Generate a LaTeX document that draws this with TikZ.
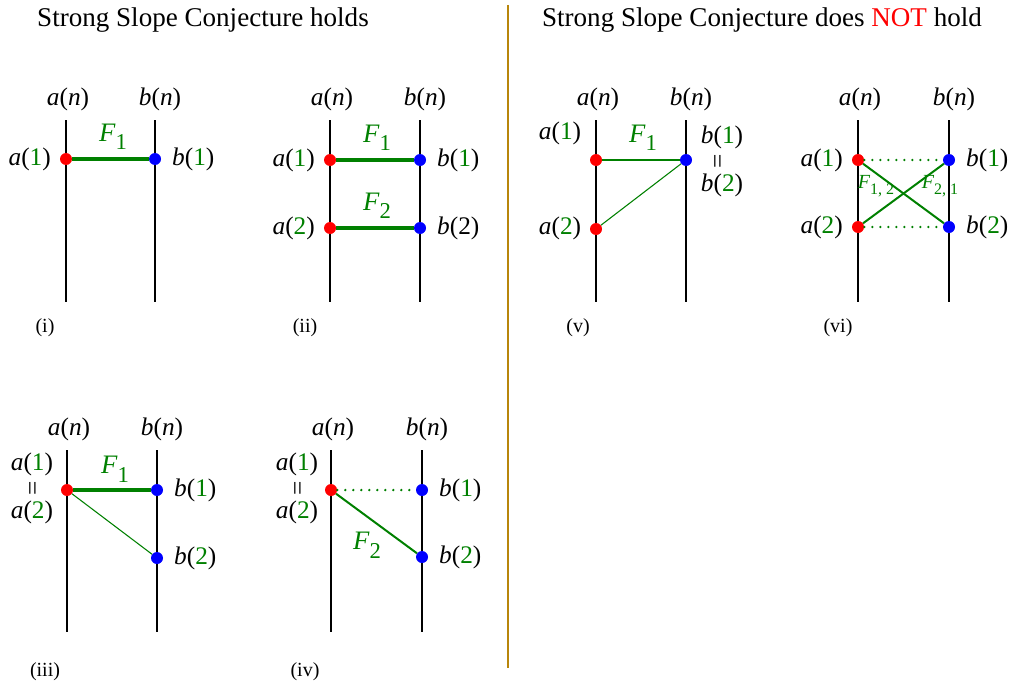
\documentclass[tikz,border=0pt]{standalone}
\usepackage{fontspec}
\setmainfont{Liberation Serif}
\usepackage{graphicx}
\usetikzlibrary{
    positioning
}
\definecolor{fgreen}{RGB}{0,128,0}
\definecolor{sepgold}{RGB}{184,134,11}
\newcommand{\gn}[1]{\textcolor{fgreen}{#1}}
\newcommand{\Fsub}[2]{\textit{F}\raisebox{-0.32em}{\fontsize{#2}{#2}\selectfont #1}}
\newcommand{\eqv}{\rotatebox{90}{\fontsize{19}{19}\selectfont =}}
\tikzset{
    axis/.style={line width=1.2pt},
    adot/.style={
        circle, fill=red,
        inner sep=0pt, minimum size=9pt
    },
    bdot/.style={
        circle, fill=blue,
        inner sep=0pt, minimum size=9pt
    },
    lbl/.style={inner sep=0pt, font=\fontsize{19}{22}\selectfont},
    flbl/.style={inner sep=0pt, text=fgreen, font=\fontsize{20}{22}\selectfont},
    tag/.style={inner sep=0pt, font=\fontsize{15}{17}\selectfont},
    title/.style={inner sep=0pt, font=\fontsize{20.3}{24}\selectfont},
    thickF/.style={fgreen, line width=2.6pt},
    midF/.style={fgreen, line width=1.5pt},
    thinF/.style={fgreen, line width=0.8pt},
    dotF/.style={fgreen, line width=1.9pt, line cap=round,
        dash pattern=on 0pt off 6pt}
}

\begin{document}
\begin{tikzpicture}[
    x=0.75pt,
    y=-0.75pt
]
    \useasboundingbox (0,0) rectangle (1012,685);

    % Titulos y separador
    \node[title] (hold) at (203,20) {Strong Slope Conjecture holds};
    \node[title] (nohold) at (762,20)
        {Strong Slope Conjecture does \textcolor{red}{NOT} hold};
    \coordinate (septop) at (508,5);
    \coordinate (sepbot) at (508,668);
    \draw[sepgold, line width=1.6pt] (septop) -- (sepbot);

    % Caso (i)
    \coordinate (atopI) at (66,120);
    \coordinate (abotI) at (66,302);
    \coordinate (btopI) at (155,120);
    \coordinate (bbotI) at (155,302);
    \draw[axis] (atopI) -- (abotI);
    \draw[axis] (btopI) -- (bbotI);
    \node[lbl] (anI) at (68,99) {\textit{a}(\textit{n})};
    \node[lbl] (bnI) at (160,99) {\textit{b}(\textit{n})};
    \node[adot] (a1I) at (66,159) {};
    \node[bdot] (b1I) at (155,159) {};
    \node[lbl, left=6.5pt of a1I] (la1I) {\textit{a}(\gn{1})};
    \node[lbl, right=8pt of b1I] (lb1I) {\textit{b}(\gn{1})};
    \node[flbl] (f1I) at (113,137) {\Fsub{1}{17}};
    \node[tag] (tagI) at (45,328) {(i)};
    \path
        (a1I) edge[thickF] (b1I);

    % Caso (ii)
    \coordinate (atopII) at (330,120);
    \coordinate (abotII) at (330,302);
    \coordinate (btopII) at (420,120);
    \coordinate (bbotII) at (420,302);
    \draw[axis] (atopII) -- (abotII);
    \draw[axis] (btopII) -- (bbotII);
    \node[lbl] (anII) at (332,99) {\textit{a}(\textit{n})};
    \node[lbl] (bnII) at (425,99) {\textit{b}(\textit{n})};
    \node[adot] (a1II) at (330,160) {};
    \node[adot] (a2II) at (330,228) {};
    \node[bdot] (b1II) at (420,160) {};
    \node[bdot] (b2II) at (420,228) {};
    \node[lbl, left=6.5pt of a1II] (la1II) {\textit{a}(\gn{1})};
    \node[lbl, left=6.5pt of a2II] (la2II) {\textit{a}(\gn{2})};
    \node[lbl, right=8pt of b1II] (lb1II) {\textit{b}(\gn{1})};
    \node[lbl, right=8pt of b2II] (lb2II) {\textit{b}(2)};
    \node[flbl] (f1II) at (377,138) {\Fsub{1}{17}};
    \node[flbl] (f2II) at (377,206) {\Fsub{2}{17}};
    \node[tag] (tagII) at (305,328) {(ii)};
    \path
        (a1II) edge[thickF] (b1II)
        (a2II) edge[thickF] (b2II);

    % Caso (iii)
    \coordinate (atopIII) at (67,450);
    \coordinate (abotIII) at (67,632);
    \coordinate (btopIII) at (157,450);
    \coordinate (bbotIII) at (157,632);
    \draw[axis] (atopIII) -- (abotIII);
    \draw[axis] (btopIII) -- (bbotIII);
    \node[lbl] (anIII) at (69,429) {\textit{a}(\textit{n})};
    \node[lbl] (bnIII) at (162,429) {\textit{b}(\textit{n})};
    \node[adot] (aIII) at (67,490) {};
    \node[bdot] (b1III) at (157,490) {};
    \node[bdot] (b2III) at (157,558) {};
    \node[lbl] (la1III) at (32,464) {\textit{a}(\gn{1})};
    \node[lbl] (eqIII) at (35,488) {\eqv};
    \node[lbl] (la2III) at (32,512) {\textit{a}(\gn{2})};
    \node[lbl, right=8pt of b1III] (lb1III) {\textit{b}(\gn{1})};
    \node[lbl, right=8pt of b2III] (lb2III) {\textit{b}(\gn{2})};
    \node[flbl] (f1III) at (115,469) {\Fsub{1}{17}};
    \node[tag] (tagIII) at (45,672) {(iii)};
    \path
        (aIII) edge[thickF] (b1III)
        (aIII) edge[thinF] (b2III);

    % Caso (iv)
    \coordinate (atopIV) at (331,450);
    \coordinate (abotIV) at (331,632);
    \coordinate (btopIV) at (422,450);
    \coordinate (bbotIV) at (422,632);
    \draw[axis] (atopIV) -- (abotIV);
    \draw[axis] (btopIV) -- (bbotIV);
    \node[lbl] (anIV) at (333,429) {\textit{a}(\textit{n})};
    \node[lbl] (bnIV) at (427,429) {\textit{b}(\textit{n})};
    \node[adot] (aIV) at (331,490) {};
    \node[bdot] (b1IV) at (422,490) {};
    \node[bdot] (b2IV) at (422,557) {};
    \node[lbl] (la1IV) at (297,464) {\textit{a}(\gn{1})};
    \node[lbl] (eqIV) at (300,488) {\eqv};
    \node[lbl] (la2IV) at (297,512) {\textit{a}(\gn{2})};
    \node[lbl, right=8pt of b1IV] (lb1IV) {\textit{b}(\gn{1})};
    \node[lbl, right=8pt of b2IV] (lb2IV) {\textit{b}(\gn{2})};
    \node[flbl] (f2IV) at (367,545) {\Fsub{2}{17}};
    \node[tag] (tagIV) at (305,672) {(iv)};
    \path
        (aIV) edge[dotF] (b1IV)
        (aIV) edge[midF] (b2IV);

    % Caso (v)
    \coordinate (atopV) at (596,120);
    \coordinate (abotV) at (596,302);
    \coordinate (btopV) at (686,120);
    \coordinate (bbotV) at (686,302);
    \draw[axis] (atopV) -- (abotV);
    \draw[axis] (btopV) -- (bbotV);
    \node[lbl] (anV) at (598,99) {\textit{a}(\textit{n})};
    \node[lbl] (bnV) at (691,99) {\textit{b}(\textit{n})};
    \node[adot] (a1V) at (596,160) {};
    \node[adot] (a2V) at (596,229) {};
    \node[bdot] (bV) at (686,160) {};
    \node[lbl] (la1V) at (560,133) {\textit{a}(\gn{1})};
    \node[lbl] (la2V) at (560,228) {\textit{a}(\gn{2})};
    \node[lbl] (lb1V) at (722,137) {\textit{b}(\gn{1})};
    \node[lbl] (eqV) at (720,161) {\eqv};
    \node[lbl] (lb2V) at (722,185) {\textit{b}(\gn{2})};
    \node[flbl] (f1V) at (643,138) {\Fsub{1}{17}};
    \node[tag] (tagV) at (578,328) {(v)};
    \path
        (a1V) edge[midF] (bV)
        (a2V) edge[thinF] (bV);

    % Caso (vi)
    \coordinate (atopVI) at (858,120);
    \coordinate (abotVI) at (858,302);
    \coordinate (btopVI) at (949,120);
    \coordinate (bbotVI) at (949,302);
    \draw[axis] (atopVI) -- (abotVI);
    \draw[axis] (btopVI) -- (bbotVI);
    \node[lbl] (anVI) at (860,99) {\textit{a}(\textit{n})};
    \node[lbl] (bnVI) at (954,99) {\textit{b}(\textit{n})};
    \node[adot] (a1VI) at (858,160) {};
    \node[adot] (a2VI) at (858,227) {};
    \node[bdot] (b1VI) at (949,160) {};
    \node[bdot] (b2VI) at (949,227) {};
    \node[lbl, left=6.5pt of a1VI] (la1VI) {\textit{a}(\gn{1})};
    \node[lbl, left=6.5pt of a2VI] (la2VI) {\textit{a}(\gn{2})};
    \node[lbl, right=8pt of b1VI] (lb1VI) {\textit{b}(\gn{1})};
    \node[lbl, right=8pt of b2VI] (lb2VI) {\textit{b}(\gn{2})};
    \node[flbl, font=\fontsize{15}{17}\selectfont] (f12VI) at (876,186) {\Fsub{1, 2}{12}};
    \node[flbl, font=\fontsize{15}{17}\selectfont] (f21VI) at (940,186) {\Fsub{2, 1}{12}};
    \node[tag] (tagVI) at (838,328) {(vi)};
    \path
        (a1VI) edge[dotF] (b1VI)
        (a2VI) edge[dotF] (b2VI)
        (a1VI) edge[midF] (b2VI)
        (a2VI) edge[midF] (b1VI);

\end{tikzpicture}
\end{document}
